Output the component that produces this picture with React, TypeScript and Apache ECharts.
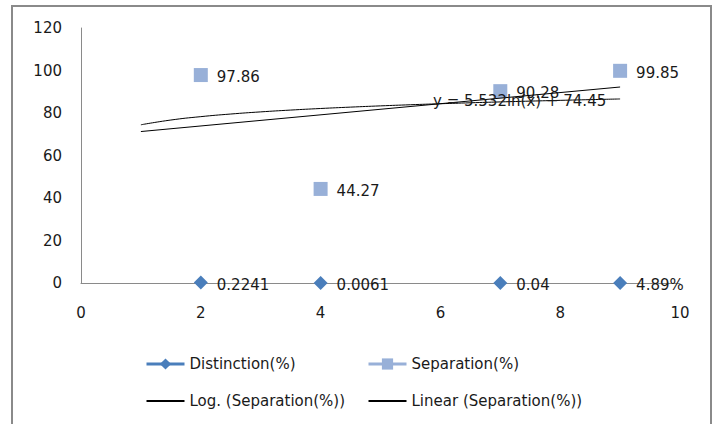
import React, { useEffect, useRef } from "react";
import * as echarts from "echarts";

const xValues = [2, 4, 7, 9];
const distinctionValues = [0.2241, 0.0061, 0.04, 0.0489];
const distinctionLabels = ["0.2241", "0.0061", "0.04", "4.89%"];
const separationValues = [97.86, 44.27, 90.28, 99.85];
const separationLabels = ["97.86", "44.27", "90.28", "99.85"];
const logCoef = { a: 5.532, b: 74.45 };
const trendX = [1, 1.5, 2, 2.5, 3, 3.5, 4, 4.5, 5, 5.5, 6, 6.5, 7, 7.5, 8, 8.5, 9];
const equationText = "y = 5.532ln(x) + 74.45";
const xTicks = { min: 0, max: 10, interval: 2 };
const yTicks = { min: 0, max: 120, interval: 20 };

const FONT = "'DejaVu Sans', 'Open Sans', sans-serif";
const FS = 15;

function linearFit(xs: number[], ys: number[]) {
  const n = xs.length;
  const mx = xs.reduce((s, v) => s + v, 0) / n;
  const my = ys.reduce((s, v) => s + v, 0) / n;
  let sxy = 0;
  let sxx = 0;
  for (let i = 0; i < n; i++) {
    sxy += (xs[i] - mx) * (ys[i] - my);
    sxx += (xs[i] - mx) * (xs[i] - mx);
  }
  const m = sxy / sxx;
  return { m, c: my - m * mx };
}

export default function App() {
  const ref = useRef<HTMLDivElement>(null);
  useEffect(() => {
    document.body.style.margin = "0";
    const chart = echarts.init(ref.current!, undefined, { renderer: "svg" });
    const lin = linearFit(xValues, separationValues);
    const logData = trendX.map((x) => [x, logCoef.a * Math.log(x) + logCoef.b]);
    const linData = [trendX[0], trendX[trendX.length - 1]].map((x) => [x, lin.m * x + lin.c]);
    const labelStyle = {
      show: true,
      position: "right" as const,
      distance: 9,
      offset: [0, 2],
      color: "#1a1a1a",
      fontSize: FS,
      fontFamily: FONT,
    };
    const legendText = { fontSize: FS, color: "#1a1a1a", fontFamily: FONT, lineHeight: 18 };
    chart.setOption({
      animation: false,
      backgroundColor: "#fff",
      textStyle: { fontFamily: FONT },
      graphic: [
        {
          type: "rect",
          shape: { x: 12, y: 6, width: 699, height: 440 },
          style: { fill: "none", stroke: "#8a8a8a", lineWidth: 2 },
          z: -10,
        },
        {
          type: "text",
          x: 433,
          y: 101,
          style: {
            text: equationText,
            fontSize: FS,
            fontFamily: FONT,
            fill: "#1a1a1a",
            verticalAlign: "middle",
          },
          z: 100,
        },
      ],
      grid: { left: 81, right: 35, top: 28, bottom: 141 },
      xAxis: {
        type: "value",
        min: xTicks.min,
        max: xTicks.max,
        interval: xTicks.interval,
        splitLine: { show: false },
        axisLine: { show: true, lineStyle: { color: "#8a8a8a", width: 1 } },
        axisTick: { show: false },
        axisLabel: { color: "#1a1a1a", fontSize: FS, margin: 22, fontFamily: FONT },
      },
      yAxis: {
        type: "value",
        min: yTicks.min,
        max: yTicks.max,
        interval: yTicks.interval,
        splitLine: { show: false },
        axisLine: { show: true, lineStyle: { color: "#8a8a8a", width: 1 } },
        axisTick: { show: false },
        axisLabel: { color: "#1a1a1a", fontSize: FS, margin: 19, fontFamily: FONT },
      },
      legend: [
        {
          left: 140,
          top: 350,
          orient: "vertical",
          itemWidth: 38,
          itemHeight: 14,
          itemGap: 19,
          textStyle: legendText,
          data: [
            { name: "Distinction(%)", lineStyle: { width: 3, color: "#4a7ebb", opacity: 1 } },
            { name: "Log. (Separation(%))", itemStyle: { opacity: 0 } },
          ],
        },
        {
          left: 362,
          top: 350,
          orient: "vertical",
          itemWidth: 38,
          itemHeight: 14,
          itemGap: 19,
          textStyle: legendText,
          data: [
            { name: "Separation(%)", lineStyle: { width: 3, color: "#98b0d8", opacity: 1 } },
            { name: "Linear (Separation(%))", itemStyle: { opacity: 0 } },
          ],
        },
      ],
      series: [
        {
          name: "Distinction(%)",
          type: "line",
          data: xValues.map((x, i) => ({
            value: [x, distinctionValues[i]],
            label: { ...labelStyle, formatter: distinctionLabels[i] },
          })),
          symbol: "diamond",
          symbolSize: 14,
          showAllSymbol: true,
          lineStyle: { width: 0, opacity: 0 },
          itemStyle: { color: "#4a7ebb" },
          color: "#4a7ebb",
          z: 5,
        },
        {
          name: "Separation(%)",
          type: "line",
          data: xValues.map((x, i) => ({
            value: [x, separationValues[i]],
            label: { ...labelStyle, formatter: separationLabels[i] },
          })),
          symbol: "rect",
          symbolSize: 14,
          showAllSymbol: true,
          lineStyle: { width: 0, opacity: 0 },
          itemStyle: { color: "#98b0d8" },
          color: "#98b0d8",
          z: 4,
        },
        {
          name: "Log. (Separation(%))",
          type: "line",
          data: logData,
          smooth: true,
          showSymbol: false,
          symbol: "none",
          lineStyle: { width: 1, color: "#000" },
          color: "#000",
          z: 6,
        },
        {
          name: "Linear (Separation(%))",
          type: "line",
          data: linData,
          showSymbol: false,
          symbol: "none",
          lineStyle: { width: 1, color: "#000" },
          color: "#000",
          z: 6,
        },
      ],
    });
    return () => chart.dispose();
  }, []);
  return (
    <div
      ref={ref}
      style={{ position: "fixed", left: 0, top: 0, width: 715, height: 424 }}
    />
  );
}
